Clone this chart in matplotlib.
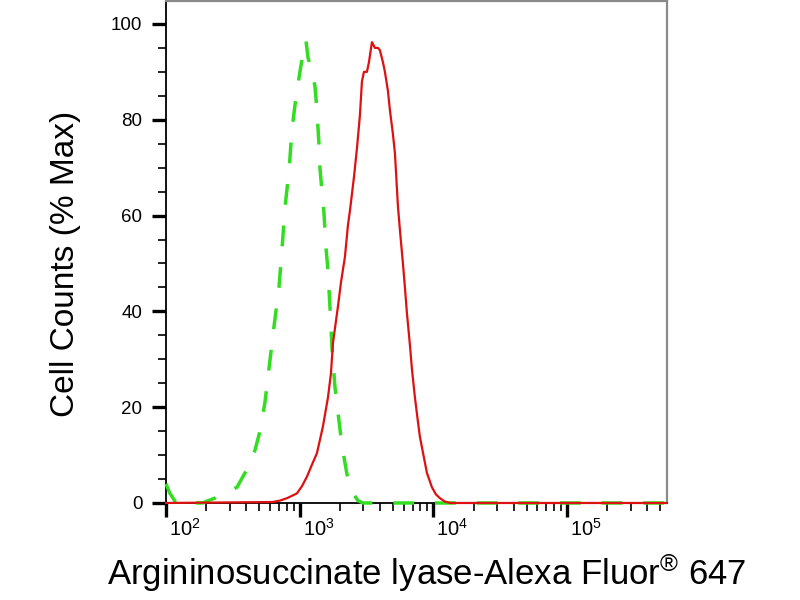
import numpy as np
import matplotlib
matplotlib.use('Agg')
import matplotlib.pyplot as plt
from matplotlib.ticker import FixedLocator, LogLocator, MultipleLocator, NullFormatter, FuncFormatter
import matplotlib.transforms as mtransforms

plt.rcParams['font.family'] = 'Liberation Sans'
plt.rcParams['mathtext.fontset'] = 'custom'
plt.rcParams['mathtext.rm'] = 'Liberation Sans'
plt.rcParams['mathtext.it'] = 'Liberation Sans:italic'
plt.rcParams['mathtext.bf'] = 'Liberation Sans:bold'

# isotype control (green dashed)
ctrl_x = [100, 107, 119, 189, 199, 232, 276, 340, 403, 463,
          505, 550, 589, 642, 700, 737, 776, 818, 846, 876,
          922, 954, 1005, 1040, 1077, 1115, 1154, 1236, 1302, 1347,
          1394, 1418, 1469, 1520, 1573, 1628, 1685, 1744, 1837, 1934,
          2072, 2259, 2505, 2730, 2976, 558000]
ctrl_y = [4, 2, 0, 0, 0.3, 1, 2, 3.3, 7, 11,
          15, 21, 28, 36.7, 45, 52.8, 61.6, 67.4, 72, 78,
          83, 86, 90, 92.5, 96, 96.5, 93, 90, 87, 82,
          75, 70, 65, 60.5, 53.4, 48.6, 41, 32.6, 24.2, 19,
          12, 6, 2, 0.5, 0, 0]

# Argininosuccinate lyase stained cells (red)
samp_x = [100, 631, 712, 804, 954, 1040, 1134, 1236, 1347, 1494,
          1628, 1714, 1775, 1934, 2037, 2182, 2298, 2378, 2548, 2683,
          2826, 2924, 3027, 3187, 3299, 3474, 3658, 3853, 3987, 4200,
          4345, 4577, 4736, 4988, 5163, 5435, 5626, 5925, 6132, 6346,
          6683, 6918, 7286, 7671, 7940, 8505, 8955, 9761, 10460, 11204,
          12217, 13316, 558000]
samp_y = [0, 0.2, 0.5, 1, 2, 3.5, 5.5, 8, 10.4, 16,
          22, 27, 33.4, 41, 46, 51.4, 58, 61, 68, 74,
          81, 88, 90, 90, 92, 96.2, 95, 95, 94.5, 92,
          90, 86, 82, 77, 73, 62, 57, 50, 45, 39.7,
          33, 28, 22, 17, 13.8, 9.5, 6.3, 3.3, 1.8, 1,
          0.3, 0, 0]

decades = [1e2, 1e3, 1e4, 1e5]
y_ticks = [0, 20, 40, 60, 80, 100]

fig = plt.figure(figsize=(8, 6), dpi=100)
ax = fig.add_axes([0.2075, 0.1617, 0.626, 0.8367])

ax.plot(ctrl_x, ctrl_y, color='#33dd22', lw=2.5, dashes=(6, 6),
        zorder=3, clip_on=False)
ax.plot(samp_x, samp_y, color='#dd1111', lw=1.6, zorder=4, clip_on=False)

ax.set_xscale('log')
ax.set_xlim(100, 5.585e5)
ax.set_ylim(0, 104.8)

ax.xaxis.set_major_locator(FixedLocator(decades))
ax.xaxis.set_minor_locator(LogLocator(base=10, subs=range(2, 10), numticks=20))
ax.xaxis.set_minor_formatter(NullFormatter())
ax.xaxis.set_major_formatter(FuncFormatter(lambda v, p: r'$10^{%d}$' % round(np.log10(v))))
ax.yaxis.set_major_locator(FixedLocator(y_ticks))
ax.yaxis.set_minor_locator(MultipleLocator(5))

ax.tick_params(which='major', direction='out', length=10, width=2.4, color='black')
ax.tick_params(which='minor', direction='out', length=6, width=1.2, color='black')
ax.tick_params(axis='y', which='major', labelsize=13.5, pad=7)
ax.tick_params(axis='x', which='major', labelsize=14.5, pad=1)

offset = mtransforms.ScaledTranslation(3 / 100, 0, fig.dpi_scale_trans)
for lab in ax.get_xticklabels():
    lab.set_horizontalalignment('left')
    lab.set_transform(lab.get_transform() + offset)

for s in ['left', 'bottom']:
    ax.spines[s].set_color('black')
    ax.spines[s].set_linewidth(1.3)
for s in ['top', 'right']:
    ax.spines[s].set_color('#8a8a8a')
    ax.spines[s].set_linewidth(1.6)

fig.text(66 / 800, 1 - 264 / 600, 'Cell Counts (% Max)', rotation=90,
         ha='center', va='center', fontsize=24)
fig.text(427 / 800, 1 - 585 / 600, 'Argininosuccinate lyase-Alexa Fluor$^{®}$ 647',
         ha='center', va='baseline', fontsize=25)

fig.savefig('out.png', dpi=100)
